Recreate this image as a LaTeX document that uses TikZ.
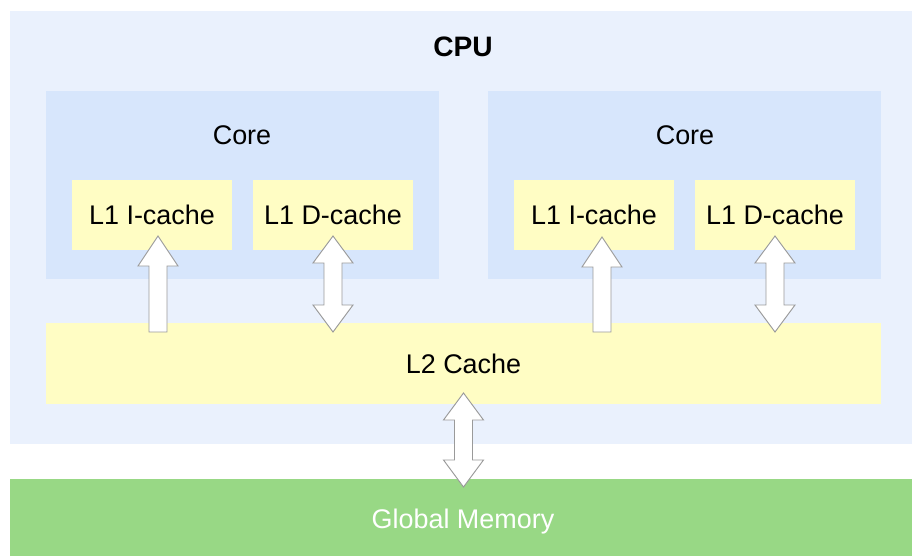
\documentclass[tikz,border=0pt]{standalone}
\usepackage{fontspec}
\setmainfont{Liberation Sans}
\usetikzlibrary{calc}

\definecolor{cpubg}{HTML}{EAF1FD}
\definecolor{corebg}{HTML}{D7E6FC}
\definecolor{cachebg}{HTML}{FFFDC4}
\definecolor{membg}{HTML}{98D885}
\definecolor{arrgray}{HTML}{9A9A9A}

\tikzset{
  box/.style={inner sep=0pt, outer sep=0pt},
  lbl/.style={font=\fontsize{23}{27}\selectfont},
  cache/.style={box, lbl, fill=cachebg, minimum width=4.8cm, minimum height=2.1cm},
  fatarrow/.style={draw=arrgray, fill=white, line width=0.8pt, line join=miter}
}
% hollow arrows: #1 tail/lower tip, #2 upper tip
\newcommand{\uparr}[2]{\draw[fatarrow] ($(#1)+(-9,0)$) -- ($(#2)+(-9,30)$) -- ($(#2)+(-20,30)$) -- (#2)
  -- ($(#2)+(20,30)$) -- ($(#2)+(9,30)$) -- ($(#1)+(9,0)$) -- cycle;}
\newcommand{\updownarr}[2]{\draw[fatarrow] (#1) -- ($(#1)+(-20,-27)$) -- ($(#1)+(-9,-27)$) -- ($(#2)+(-9,27)$)
  -- ($(#2)+(-20,27)$) -- (#2) -- ($(#2)+(20,27)$) -- ($(#2)+(9,27)$) -- ($(#1)+(9,-27)$) -- ($(#1)+(20,-27)$) -- cycle;}

\begin{document}
\begin{tikzpicture}[x=0.03cm, y=-0.03cm]
\useasboundingbox (0,0) rectangle (912,556);

\node[box, fill=cpubg, minimum width=27.06cm, minimum height=12.99cm] (cpu) at (461,227.5) {};
\node[font=\bfseries\fontsize{24}{28}\selectfont] (cpulbl) at (463,47) {CPU};

\node[box, fill=corebg, minimum width=11.79cm, minimum height=5.64cm] (corel) at (242.5,185) {};
\node[box, fill=corebg, minimum width=11.79cm, minimum height=5.64cm] (corer) at (684.5,185) {};
\node[lbl] (corelbll) at (242,135) {Core};
\node[lbl] (corelblr) at (685,135) {Core};

\node[cache] (icl) at (152,215) {L1 I-cache};
\node[cache] (dcl) at (333,215) {L1 D-cache};
\node[cache] (icr) at (594,215) {L1 I-cache};
\node[cache] (dcr) at (775,215) {L1 D-cache};

\node[cache, minimum width=25.05cm, minimum height=2.43cm] (l2) at (463.5,363.5) {L2 Cache};

\node[box, fill=membg, minimum width=27.06cm, minimum height=2.31cm] (mem) at (461,517.5) {};
\node[lbl, text=white] (memlbl) at (463,521.5) {Global Memory};

% arrow ends
\coordinate (ial) at ($(icl.south)+(6,-14)$);
\coordinate (ibl) at ($(l2.north -| ial)+(0,9)$);
\coordinate (dal) at ($(dcl.south)+(0,-14)$);
\coordinate (dbl) at ($(l2.north -| dal)+(0,9)$);
\coordinate (iar) at ($(icr.south)+(8,-13)$);
\coordinate (ibr) at ($(l2.north -| iar)+(0,9)$);
\coordinate (dar) at ($(dcr.south)+(0,-14)$);
\coordinate (dbr) at ($(l2.north -| dar)+(0,9)$);
\coordinate (ma) at ($(l2.south)+(0,-11)$);
\coordinate (mb) at ($(mem.north -| ma)+(0,8)$);

\uparr{ibl}{ial}
\updownarr{dbl}{dal}
\uparr{ibr}{iar}
\updownarr{dbr}{dar}
\updownarr{mb}{ma}
\end{tikzpicture}
\end{document}
